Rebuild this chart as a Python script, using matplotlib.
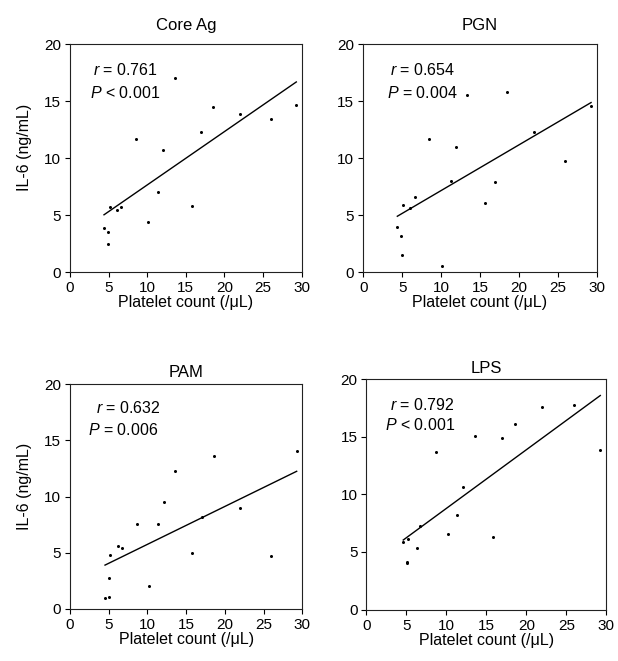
import numpy as np
import matplotlib
matplotlib.use('Agg')
import matplotlib.pyplot as plt

plt.rcParams['font.family'] = ['Liberation Sans', 'DejaVu Sans']
plt.rcParams['mathtext.fontset'] = 'custom'
plt.rcParams['mathtext.rm'] = 'Liberation Sans'
plt.rcParams['mathtext.it'] = 'Liberation Sans:italic'

TICK_SIZE = 11
LABEL_SIZE = 11.5
TITLE_SIZE = 12

# platelet counts (same patients in every panel, x axis)
core_ag_x = [4.4, 4.96, 4.96, 5.14, 6.13, 6.65, 8.55, 10.14, 11.35, 12.04, 13.55, 15.8, 16.96, 18.56, 21.97, 25.98, 29.3]
core_ag_y = [3.9, 3.47, 2.45, 5.66, 5.46, 5.69, 11.68, 4.38, 6.98, 10.72, 17.05, 5.75, 12.26, 14.51, 13.9, 13.4, 14.63]

pgn_x = [4.37, 4.89, 4.93, 5.1, 6.04, 6.6, 8.49, 10.07, 11.27, 11.91, 13.37, 15.69, 16.89, 18.47, 21.94, 25.97, 29.27]
pgn_y = [3.92, 3.19, 1.46, 5.89, 5.6, 6.62, 11.65, 0.53, 7.96, 10.98, 15.49, 6.09, 7.9, 15.75, 12.3, 9.75, 14.52]

pam_x = [4.52, 5.04, 4.99, 5.21, 6.2, 6.72, 8.61, 10.25, 11.37, 12.1, 13.56, 15.8, 17.09, 18.6, 21.96, 26.0, 29.27]
pam_y = [0.93, 1.07, 2.76, 4.81, 5.62, 5.38, 7.55, 2.0, 7.55, 9.54, 12.25, 4.93, 8.17, 13.6, 8.97, 4.67, 14.03]

lps_x = [4.6, 5.1, 5.1, 5.23, 6.27, 6.73, 8.65, 10.19, 11.35, 12.06, 13.56, 15.81, 16.98, 18.6, 21.94, 25.9, 29.23]
lps_y = [5.83, 4.12, 4.02, 6.14, 5.33, 7.27, 13.66, 6.52, 8.2, 10.6, 15.02, 6.26, 14.9, 16.06, 17.59, 17.74, 13.8]

# regression lines (slope, intercept)
core_ag_fit = (0.468, 2.96)
pgn_fit = (0.4006, 3.14)
pam_fit = (0.3378, 2.36)
lps_fit = (0.509, 3.69)

titles = ['Core Ag', 'PGN', 'PAM', 'LPS']
r_labels = ['0.761', '0.654', '0.632', '0.792']
p_labels = ['< 0.001', '= 0.004', '= 0.006', '< 0.001']

x_ticks = [0, 5, 10, 15, 20, 25, 30]
y_ticks = [0, 5, 10, 15, 20]


def draw_panel(ax, x, y, fit, title, r_text, p_text, r_pos, p_pos, ylabel, title_pad):
    ax.plot(x, y, 'o', color='black', markersize=2.2, markeredgewidth=0)
    slope, intercept = fit
    xs = np.array([min(x), max(x)])
    ax.plot(xs, slope * xs + intercept, color='black', linewidth=1.0)

    ax.set_xlim(0, 30)
    ax.set_ylim(0, 20)
    ax.set_xticks(x_ticks)
    ax.set_yticks(y_ticks)
    ax.tick_params(direction='out', length=3.5, width=0.8, labelsize=TICK_SIZE, pad=3)
    for spine in ax.spines.values():
        spine.set_linewidth(0.8)
        spine.set_color('#222222')

    ax.set_title(title, fontsize=TITLE_SIZE, pad=title_pad)
    ax.set_xlabel('Platelet count (/\u03bcL)', fontsize=LABEL_SIZE, labelpad=0)
    if ylabel:
        ax.set_ylabel('IL-6 (ng/mL)', fontsize=LABEL_SIZE)
        ax.yaxis.set_label_coords(-0.165, 0.545)

    ax.text(r_pos[0], r_pos[1], r'$\it{r}$ = ' + r_text, transform=ax.transAxes,
            fontsize=LABEL_SIZE, va='center', ha='left')
    ax.text(p_pos[0], p_pos[1], r'$\it{P}$ ' + p_text, transform=ax.transAxes,
            fontsize=LABEL_SIZE, va='center', ha='left')


fig = plt.figure(figsize=(6.18, 6.61), dpi=100)

ax_tl = fig.add_axes([0.1133, 0.5885, 0.3749, 0.3449])
ax_tr = fig.add_axes([0.5879, 0.5885, 0.3777, 0.3449])
ax_bl = fig.add_axes([0.1133, 0.0791, 0.3759, 0.3395])
ax_br = fig.add_axes([0.5930, 0.0779, 0.3883, 0.3487])

draw_panel(ax_tl, core_ag_x, core_ag_y, core_ag_fit, titles[0], r_labels[0], p_labels[0],
           (0.10, 0.886), (0.086, 0.785), True, 10)
draw_panel(ax_tr, pgn_x, pgn_y, pgn_fit, titles[1], r_labels[1], p_labels[1],
           (0.115, 0.886), (0.10, 0.783), False, 10)
draw_panel(ax_bl, pam_x, pam_y, pam_fit, titles[2], r_labels[2], p_labels[2],
           (0.11, 0.896), (0.079, 0.796), True, 5)
draw_panel(ax_br, lps_x, lps_y, lps_fit, titles[3], r_labels[3], p_labels[3],
           (0.10, 0.887), (0.077, 0.80), False, 4.5)

fig.savefig('out.png', dpi=100)
